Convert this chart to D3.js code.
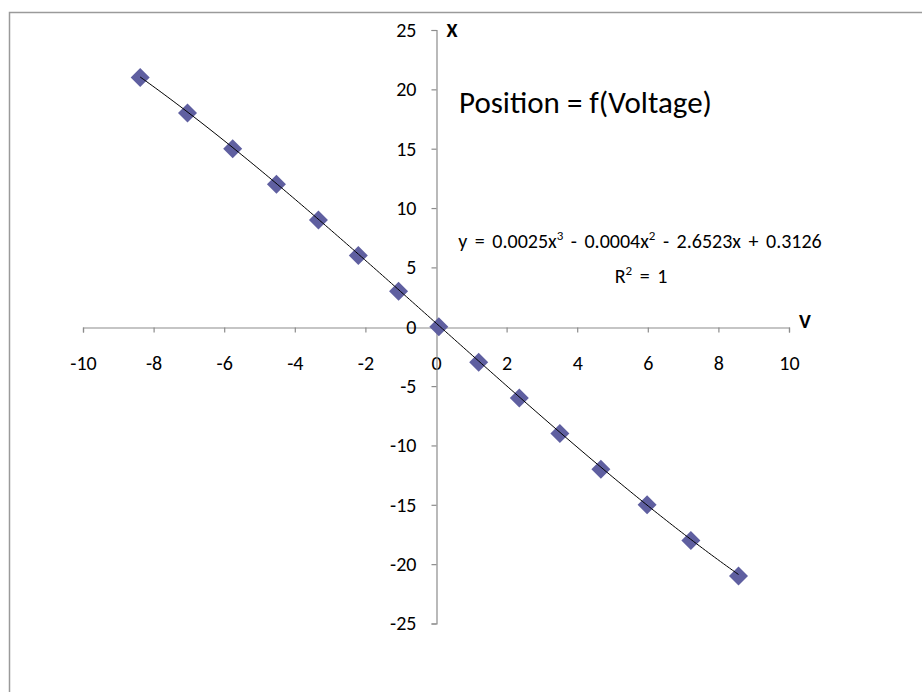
<!DOCTYPE html>
<html>
<head>
<meta charset="utf-8">
<script src="https://cdn.jsdelivr.net/npm/d3@7"></script>
<style>
  html, body { margin: 0; padding: 0; background: #fff; }
  svg { display: block; }
  text { font-family: Carlito, Lato, "Open Sans", sans-serif; fill: #000; }
</style>
</head>
<body>
<svg id="chart" width="922" height="692"></svg>
<script>
// ---- data ----
const voltage  = [-8.38, -7.04, -5.76, -4.52, -3.33, -2.20, -1.06, 0.08, 1.21, 2.36, 3.51, 4.67, 5.98, 7.22, 8.57];
const position = [21, 18, 15, 12, 9, 6, 3, 0, -3, -6, -9, -12, -15, -18, -21];
const xTicks = [-10, -8, -6, -4, -2, 0, 2, 4, 6, 8, 10];
const yTicks = [-25, -20, -15, -10, -5, 0, 5, 10, 15, 20, 25];
const trendCoef = [0.0025, -0.0004, -2.6523, 0.3126]; // x^3, x^2, x, const
const titleText = "Position = f(Voltage)";
const xAxisLabel = "V";
const yAxisLabel = "X";

const svg = d3.select("#chart");

// outer chart frame
svg.append("path")
  .attr("d", "M9.5,692 V12.5 H922")
  .attr("fill", "none")
  .attr("stroke", "#9a9a9a")
  .attr("stroke-width", 1.5);

const x = d3.scaleLinear().domain([-10, 10]).range([83, 789]);
const y = d3.scaleLinear().domain([-25, 25]).range([623.5, 30]);

const axisColor = "#8c8c8c";
const tickFont = 20;

// x axis through y=0
const gx = svg.append("g")
  .attr("transform", `translate(0,${Math.round(y(0)) + 0.5})`)
  .call(d3.axisBottom(x).tickValues(xTicks).tickSize(5).tickPadding(23).tickFormat(d3.format("d")));
// y axis through x=0
const gy = svg.append("g")
  .attr("transform", `translate(${Math.round(x(0)) + 0.5},0)`)
  .call(d3.axisLeft(y).tickValues(yTicks).tickSize(5).tickPadding(15).tickFormat(d3.format("d")));

[gx, gy].forEach(g => {
  g.select(".domain").attr("stroke", axisColor).attr("stroke-width", 1.2);
  g.selectAll(".tick line").attr("stroke", axisColor).attr("stroke-width", 1.2);
  g.selectAll(".tick text").attr("font-size", tickFont).attr("fill", "#000")
    .style("font-family", "Carlito, Lato, 'Open Sans', sans-serif");
});
gx.selectAll(".tick text").text(d => d < 0 ? "-" + Math.abs(d) : d);
gy.selectAll(".tick text").text(d => d < 0 ? "-" + Math.abs(d) : d);

// axis titles
svg.append("text").attr("x", 452).attr("y", 37).attr("text-anchor", "middle")
  .attr("font-size", 20).attr("font-weight", "bold").text(yAxisLabel);
svg.append("text").attr("x", 805).attr("y", 328).attr("text-anchor", "middle")
  .attr("font-size", 20).attr("font-weight", "bold").text(xAxisLabel);

// chart title
svg.append("text").attr("x", 459).attr("y", 113)
  .attr("font-size", 31).text(titleText);

// trendline (polynomial, order 3)
const poly = v => trendCoef[0]*v*v*v + trendCoef[1]*v*v + trendCoef[2]*v + trendCoef[3];
const x0 = d3.min(voltage), x1 = d3.max(voltage);
const trendPts = d3.range(0, 201).map(i => { const v = x0 + (x1 - x0) * i / 200; return [v, poly(v)]; });
const trendLine = d3.line().x(d => x(d[0])).y(d => y(d[1]));

// markers (diamonds)
const pts = voltage.map((v, i) => ({ v, p: position[i] }));
svg.append("g").selectAll("path")
  .data(pts)
  .join("path")
  .attr("transform", d => `translate(${x(d.v)},${y(d.p)})`)
  .attr("d", "M0,-9.5 L9.5,0 L0,9.5 L-9.5,0 Z")
  .attr("fill", "#5f5fa0");

// trendline drawn on top of markers
svg.append("path")
  .datum(trendPts)
  .attr("fill", "none")
  .attr("stroke", "#000")
  .attr("stroke-width", 1)
  .attr("d", trendLine);

// trendline equation label
const eq = svg.append("text").attr("x", 640).attr("y", 248).attr("text-anchor", "middle")
  .attr("font-size", 20).attr("word-spacing", 3);
eq.append("tspan").text("y = " + trendCoef[0] + "x");
eq.append("tspan").attr("dy", -8).attr("font-size", 13).text("3");
eq.append("tspan").attr("dy", 8).text(" - " + Math.abs(trendCoef[1]) + "x");
eq.append("tspan").attr("dy", -8).attr("font-size", 13).text("2");
eq.append("tspan").attr("dy", 8).text(" - " + Math.abs(trendCoef[2]) + "x + " + trendCoef[3]);

const r2 = svg.append("text").attr("x", 641).attr("y", 283).attr("text-anchor", "middle")
  .attr("font-size", 20).attr("word-spacing", 3);
r2.append("tspan").text("R");
r2.append("tspan").attr("dy", -8).attr("font-size", 13).text("2");
r2.append("tspan").attr("dy", 8).text(" = 1");
</script>
</body>
</html>
